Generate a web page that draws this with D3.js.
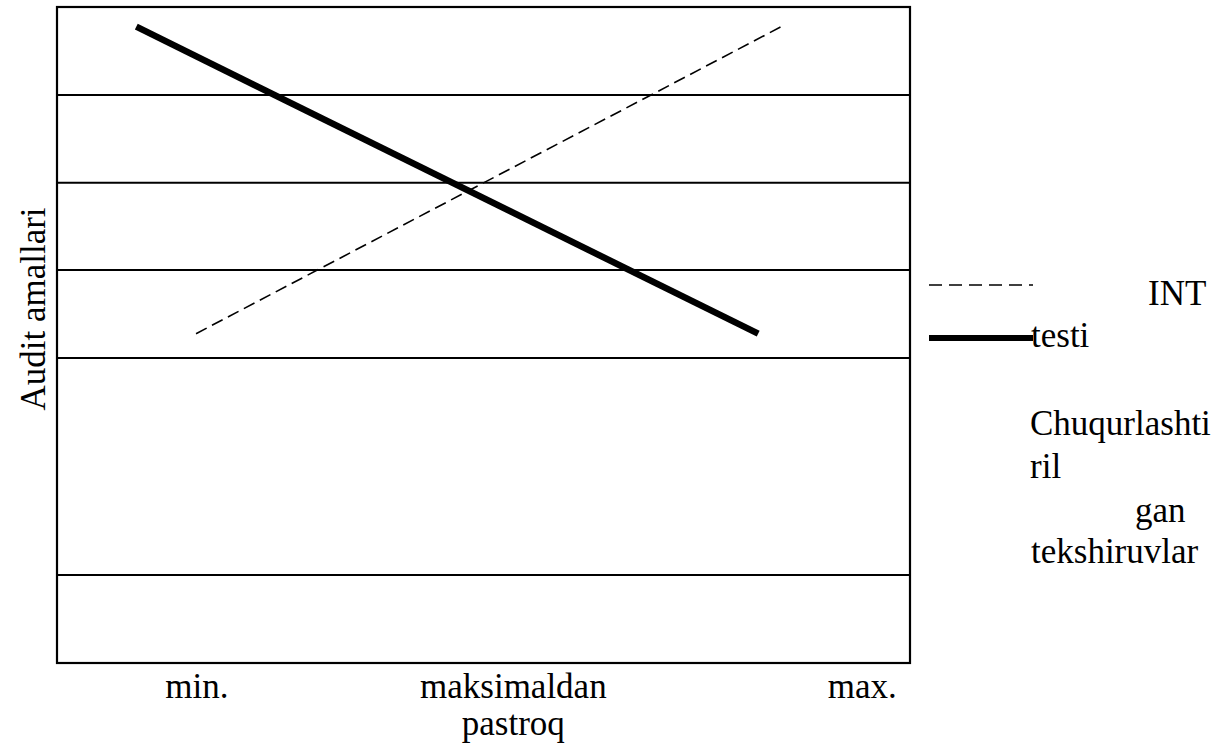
<!DOCTYPE html>
<html>
<head>
<meta charset="utf-8">
<script src="https://cdn.jsdelivr.net/npm/d3@7"></script>
<style>
  html, body { margin: 0; padding: 0; background: #fff; }
  svg { display: block; }
  text { font-family: "Liberation Serif", "Times New Roman", serif; fill: #000; }
</style>
</head>
<body>
<svg id="chart" width="1226" height="749"></svg>
<script>
// bottom labels (x on the 0..10 axis)
const xLabels = [
  { lines: ["min."], x: 1.64 },
  { lines: ["maksimaldan", "pastroq"], x: 5.35 },
  { lines: ["max."], x: 9.44 }
];
// horizontal rules (0..100 axis)
const gridValues = [86.6, 73.2, 59.9, 46.5, 13.4];
// series: x on 0..10, y on 0..100
const intTesti = [ { x: 1.63, y: 50.2 }, { x: 8.49, y: 97.0 } ];
const chuqur   = [ { x: 0.93, y: 97.0 }, { x: 8.22, y: 50.2 } ];
const yTitle = "Audit amallari";
// legend text as laid out in the picture
const legendWords = ["INT", "testi", "Chuqurlashti", "ril", "gan", "tekshiruvlar"];

const svg = d3.select("#chart");
const margins = { left: 57, top: 7, right: 316, bottom: 86 };
const W = 1226, H = 749;

const x = d3.scaleLinear().domain([0, 10]).range([margins.left, W - margins.right]);
const y = d3.scaleLinear().domain([0, 100]).range([H - margins.bottom, margins.top]);

// gridlines
svg.append("g").selectAll("line")
  .data(gridValues)
  .enter().append("line")
  .attr("x1", x(0)).attr("x2", x(10))
  .attr("y1", d => y(d)).attr("y2", d => y(d))
  .attr("stroke", "#000").attr("stroke-width", 2);

// frame
svg.append("rect")
  .attr("x", x(0)).attr("y", y(100))
  .attr("width", x(10) - x(0)).attr("height", y(0) - y(100))
  .attr("fill", "none").attr("stroke", "#000").attr("stroke-width", 2.2);

const line = d3.line().x(d => x(d.x)).y(d => y(d.y));

svg.append("path").datum(intTesti)
  .attr("d", line)
  .attr("fill", "none").attr("stroke", "#000")
  .attr("stroke-width", 1.6).attr("stroke-dasharray", "12,6");

svg.append("path").datum(chuqur)
  .attr("d", line)
  .attr("fill", "none").attr("stroke", "#000")
  .attr("stroke-width", 6.5);

// x labels
xLabels.forEach(l => {
  const t = svg.append("text")
    .attr("x", x(l.x)).attr("y", 698)
    .attr("text-anchor", "middle")
    .style("font-size", "35px");
  l.lines.forEach((s, i) => {
    t.append("tspan").attr("x", x(l.x)).attr("dy", i ? 37 : 0).text(s);
  });
});

// y title
svg.append("text")
  .attr("transform", "translate(45, 309) rotate(-90)")
  .attr("text-anchor", "middle")
  .style("font-size", "35px")
  .text(yTitle);

// legend
const lg = svg.append("g");
lg.append("line")
  .attr("x1", 929).attr("x2", 1033).attr("y1", 285).attr("y2", 285)
  .attr("stroke", "#000").attr("stroke-width", 1.6).attr("stroke-dasharray", "13,7");
lg.append("line")
  .attr("x1", 929).attr("x2", 1033).attr("y1", 338).attr("y2", 338)
  .attr("stroke", "#000").attr("stroke-width", 6);

const legendPos = [
  { x: 1148, y: 305 },
  { x: 1031, y: 347 },
  { x: 1030, y: 435 },
  { x: 1030, y: 478 },
  { x: 1135, y: 522 },
  { x: 1031, y: 563 }
];
lg.selectAll("text.leg")
  .data(legendWords)
  .enter().append("text")
  .attr("class", "leg")
  .attr("x", (d, i) => legendPos[i].x).attr("y", (d, i) => legendPos[i].y)
  .style("font-size", "35px")
  .text(d => d);
</script>
</body>
</html>
